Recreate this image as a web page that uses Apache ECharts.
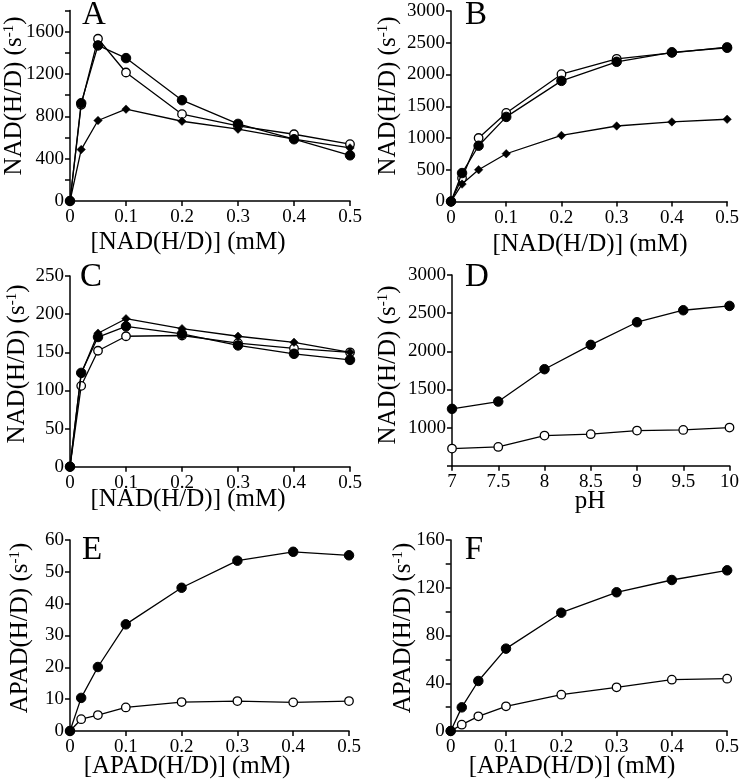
<!DOCTYPE html>
<html>
<head>
<meta charset="utf-8">
<script src="https://cdn.jsdelivr.net/npm/echarts@6/dist/echarts.min.js"></script>
<style>
html,body{margin:0;padding:0;background:#fff;}
#chart{width:742px;height:784px;}
</style>
</head>
<body>
<div id="chart"></div>
<script>
// ---- data ----
const concX = [0, 0.02, 0.05, 0.1, 0.2, 0.3, 0.4, 0.5];
const pHX = [7, 7.5, 8, 8.5, 9, 9.5, 10];

const A_filled  = [0, 925, 1471, 1351, 953, 729, 584, 432];
const A_open    = [0, 910, 1534, 1215, 821, 710, 631, 537];
const A_diamond = [0, 486, 761, 868, 754, 679, 584, 502];

const B_filled  = [0, 448, 878, 1332, 1900, 2200, 2350, 2421];
const B_open    = [0, 369, 1000, 1395, 2005, 2247, 2342, 2432];
const B_diamond = [0, 274, 500, 752, 1040, 1189, 1253, 1295];

const C_filled  = [0, 123, 170, 184, 174, 159, 148, 140];
const C_open    = [0, 106, 152, 171, 172, 162, 155, 150];
const C_diamond = [0, 122, 175, 194, 181, 171, 163, 150];

const D_filled  = [1245, 1341, 1765, 2084, 2381, 2538, 2595];
const D_open    = [725, 746, 895, 913, 961, 969, 1000];

const E_filled  = [0, 10.4, 20.1, 33.5, 45, 53.5, 56.3, 55.2];
const E_open    = [0, 3.7, 5.0, 7.4, 9.1, 9.4, 9.0, 9.4];

const F_filled  = [0, 19.8, 41.9, 69, 99.1, 116.2, 126.5, 134.6];
const F_open    = [0, 5.3, 12.3, 20.7, 30.4, 36.6, 43, 43.8];

const panelLetters = ['A', 'B', 'C', 'D', 'E', 'F'];
const yTitles = ['NAD(H/D) (s{sup|-1})', 'NAD(H/D) (s{sup|-1})', 'NAD(H/D) (s{sup|-1})',
                 'NAD(H/D) (s{sup|-1})', 'APAD(H/D) (s{sup|-1})', 'APAD(H/D) (s{sup|-1})'];
const xTitles = ['[NAD(H/D)] (mM)', '[NAD(H/D)] (mM)', '[NAD(H/D)] (mM)', 'pH',
                 '[APAD(H/D)] (mM)', '[APAD(H/D)] (mM)'];

// ---- layout ----
const FONT = '"Liberation Serif", "Times New Roman", serif';
const panels = [
  {grid:{left:70, top:10.6, width:280, height:190.4}, x:{min:0,max:0.5,interval:0.1}, y:{min:0,max:1800,interval:200,labelEvery:400},
   series:[[concX,A_open,'open'],[concX,A_diamond,'diamond'],[concX,A_filled,'filled']],
   letter:[94,15], ytitle:[14,96], xtitle:[188,242]},
  {grid:{left:451, top:11, width:282, height:190.5}, x:{min:0,max:0.5,interval:0.1}, y:{min:0,max:3000,interval:500,labelEvery:500},
   series:[[concX,B_open,'open'],[concX,B_diamond,'diamond'],[concX,B_filled,'filled']],
   letter:[476,15], ytitle:[388,96], xtitle:[590,244]},
  {grid:{left:70, top:276, width:280, height:190.7}, x:{min:0,max:0.5,interval:0.1}, y:{min:0,max:250,interval:50,labelEvery:50},
   series:[[concX,C_open,'open'],[concX,C_diamond,'diamond'],[concX,C_filled,'filled']],
   letter:[91,277], ytitle:[17,364], xtitle:[188,499]},
  {grid:{left:452, top:275, width:281, height:190.7}, x:{min:7,max:10,interval:0.5}, y:{min:500,max:3000,interval:500,labelEvery:500,hideMin:true},
   series:[[pHX,D_open,'open'],[pHX,D_filled,'filled']],
   letter:[477,277], ytitle:[388,365], xtitle:[590,501]},
  {grid:{left:70, top:540, width:279, height:191}, x:{min:0,max:0.5,interval:0.1}, y:{min:0,max:60,interval:10,labelEvery:10},
   series:[[concX,E_open,'open'],[concX,E_filled,'filled']],
   letter:[92,550], ytitle:[20,628], xtitle:[187,766]},
  {grid:{left:450.7, top:540, width:280, height:191}, x:{min:0,max:0.5,interval:0.1}, y:{min:0,max:160,interval:20,labelEvery:40},
   series:[[concX,F_open,'open'],[concX,F_filled,'filled']],
   letter:[474,550], ytitle:[403,628], xtitle:[572,766]}
];

const axisLine = {show:true, lineStyle:{color:'#000', width:1.5}};
const axisTick = {show:true, inside:false, length:5, lineStyle:{color:'#000', width:1.5}};

const grids = [], xAxes = [], yAxes = [], series = [], graphics = [];
const symbolStyles = {
  filled:  {symbol:'circle', symbolSize:9.5, itemStyle:{color:'#000', borderColor:'#000', borderWidth:1}, z:4},
  open:    {symbol:'circle', symbolSize:8.5, itemStyle:{color:'#fff', borderColor:'#000', borderWidth:1.3}, z:2},
  diamond: {symbol:'path://M0,-1L1,0L0,1L-1,0Z', symbolSize:8.5, itemStyle:{color:'#000', borderColor:'#000', borderWidth:0.5}, z:3}
};

panels.forEach((p, i) => {
  grids.push(Object.assign({containLabel:false}, p.grid));
  xAxes.push({
    type:'value', gridIndex:i, min:p.x.min, max:p.x.max, interval:p.x.interval,
    axisLine, axisTick, splitLine:{show:false},
    axisLabel:{color:'#000', fontFamily:FONT, fontSize:19, margin:7, showMinLabel:true, showMaxLabel:true,
      formatter: v => String(Math.round(v*100)/100)}
  });
  const le = p.y.labelEvery, hideMin = p.y.hideMin, ymin = p.y.min;
  yAxes.push({
    type:'value', gridIndex:i, min:p.y.min, max:p.y.max, interval:p.y.interval,
    axisLine, axisTick, splitLine:{show:false},
    axisLabel:{color:'#000', fontFamily:FONT, fontSize:19, margin:6, showMinLabel:true, showMaxLabel:true,
      formatter: v => {
        if (hideMin && v === ymin) return '';
        return (Math.round(v) % le === 0) ? String(Math.round(v)) : '';
      }}
  });
  p.series.forEach(([xs, ys, kind]) => {
    const st = symbolStyles[kind];
    series.push({
      type:'line', xAxisIndex:i, yAxisIndex:i,
      data: xs.map((x, k) => [x, ys[k]]),
      symbol: st.symbol, symbolSize: st.symbolSize, showSymbol:true,
      itemStyle: st.itemStyle, z: st.z,
      lineStyle:{color:'#000', width:1.3},
      clip:false, animation:false, silent:true
    });
  });
  graphics.push({type:'text', x:p.letter[0], y:p.letter[1],
    style:{text:panelLetters[i], fontFamily:FONT, fontSize:33, fill:'#000', align:'center', verticalAlign:'middle'}});
  graphics.push({type:'text', x:p.xtitle[0], y:p.xtitle[1],
    style:{text:xTitles[i], fontFamily:FONT, fontSize:25, fill:'#000', align:'center', verticalAlign:'middle'}});
  graphics.push({type:'text', x:p.ytitle[0], y:p.ytitle[1], rotation:Math.PI/2,
    style:{text:yTitles[i], fontFamily:FONT, fontSize:25, fill:'#000', align:'center', verticalAlign:'middle',
      rich:{sup:{fontFamily:FONT, fontSize:15, verticalAlign:'top', fill:'#000'}}}});
});

const chart = echarts.init(document.getElementById('chart'), null, {renderer:'canvas'});
chart.setOption({
  backgroundColor:'#fff',
  animation:false,
  grid: grids, xAxis: xAxes, yAxis: yAxes, series, graphic: graphics
});
</script>
</body>
</html>
